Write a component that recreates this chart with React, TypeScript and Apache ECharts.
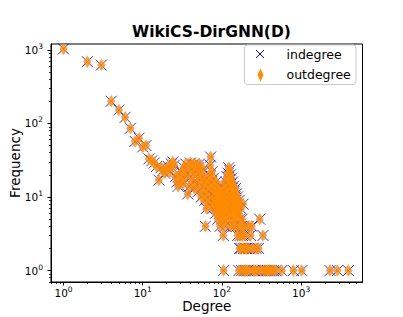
import { useEffect, useRef } from 'react';
import * as echarts from 'echarts';

const FONT = 'DejaVu Sans';

const chartTitle = 'WikiCS-DirGNN(D)';
const xAxisName = 'Degree';
const yAxisName = 'Frequency';
const seriesNames = ['indegree', 'outdegree'];

const xMajorTicks = [1, 10, 100, 1000];
const yMajorTicks = [1, 10, 100, 1000];
const xRange = [0.695, 5960];
const yRange = [0.7, 1200];

// [degree, frequency]
const indegree: [number, number][] = [
  [1, 1030], [2, 690], [3, 620], [4, 200], [5, 152], [6, 121], [7, 86], [8, 57], [9, 63], [10, 48],
  [11, 50], [12, 33], [13, 31], [14, 29], [15, 26], [16, 17], [17, 25], [18, 23], [19, 21], [20, 24],
  [21, 26], [22, 22], [23, 28], [24, 30], [25, 27], [26, 19], [27, 16], [28, 14], [29, 20], [30, 17],
  [31, 22], [32, 15], [33, 25], [34, 18], [35, 28], [36, 21], [37, 11], [38, 26], [39, 14], [40, 29],
  [41, 19], [42, 24], [43, 16], [44, 28], [45, 13], [46, 22], [47, 27], [48, 15], [49, 20], [50, 25],
  [51, 12], [52, 28], [53, 17], [54, 22], [55, 10], [56, 19], [57, 14], [58, 24], [59, 11], [60, 16],
  [61, 9], [62, 4], [63, 13], [64, 7], [65, 18], [66, 10], [67, 15], [68, 8], [69, 12], [70, 20],
  [71, 27], [72, 35], [73, 16], [74, 9], [75, 22], [76, 13], [77, 7], [78, 18], [79, 10], [80, 14],
  [81, 8], [82, 12], [83, 6], [84, 16], [85, 9], [86, 11], [87, 7], [88, 13], [89, 5], [90, 10],
  [91, 8], [92, 12], [93, 6], [94, 9], [95, 4], [96, 11], [97, 7], [98, 14], [99, 5], [100, 9],
  [101, 6], [102, 12], [103, 8], [104, 3], [105, 1], [106, 5], [107, 10], [108, 7], [109, 13], [110, 4],
  [111, 9], [112, 16], [113, 6], [114, 11], [115, 8], [116, 19], [117, 5], [118, 14], [119, 7], [120, 21],
  [121, 10], [122, 25], [123, 6], [124, 17], [125, 9], [126, 23], [127, 12], [128, 20], [129, 4], [130, 15],
  [131, 8], [132, 18], [133, 5], [134, 13], [135, 10], [136, 16], [137, 7], [138, 11], [139, 6], [140, 14],
  [141, 9], [142, 4], [143, 12], [144, 7], [145, 10], [146, 5], [147, 8], [148, 13], [149, 6], [150, 9],
  [152, 11], [154, 4], [155, 7], [157, 10], [158, 3], [160, 6], [162, 8], [164, 1], [165, 9], [167, 2],
  [168, 5], [170, 3], [172, 7], [174, 2], [175, 4], [178, 1], [180, 5], [182, 3], [185, 8], [188, 2],
  [190, 4], [192, 1], [195, 3], [198, 2], [200, 1], [205, 2], [210, 1], [215, 4], [220, 2], [225, 1],
  [230, 3], [238, 4], [245, 2], [250, 1], [260, 1], [270, 2], [280, 1], [290, 2], [300, 5], [310, 1],
  [330, 3], [340, 1], [360, 1], [380, 1], [400, 1], [420, 1], [450, 1], [480, 1], [570, 1], [800, 1],
  [1020, 1], [2320, 1], [2870, 1], [3950, 1],
];

const outdegree: [number, number][] = [
  [1, 1030], [2, 690], [3, 620], [4, 200], [5, 152], [6, 121], [7, 86], [8, 57], [9, 63], [10, 48],
  [11, 50], [12, 33], [13, 31], [14, 29], [15, 26], [16, 17], [17, 25], [18, 23], [19, 21], [20, 24],
  [21, 26], [22, 22], [23, 28], [24, 30], [25, 27], [26, 19], [27, 16], [28, 14], [29, 20], [30, 17],
  [31, 22], [32, 15], [33, 25], [34, 18], [35, 28], [36, 21], [37, 11], [38, 26], [39, 14], [40, 29],
  [41, 19], [42, 24], [43, 16], [44, 28], [45, 13], [46, 22], [47, 27], [48, 15], [49, 20], [50, 25],
  [51, 12], [52, 28], [53, 17], [54, 22], [55, 10], [56, 19], [57, 14], [58, 24], [59, 11], [60, 16],
  [61, 9], [62, 4], [63, 13], [64, 7], [65, 18], [66, 10], [67, 15], [68, 8], [69, 12], [70, 20],
  [71, 27], [72, 35], [73, 16], [74, 9], [75, 22], [76, 13], [77, 7], [78, 18], [79, 10], [80, 14],
  [81, 8], [82, 12], [83, 6], [84, 16], [85, 9], [86, 11], [87, 7], [88, 13], [89, 5], [90, 10],
  [91, 8], [92, 12], [93, 6], [94, 9], [95, 4], [96, 11], [97, 7], [98, 14], [99, 5], [100, 9],
  [101, 6], [102, 12], [103, 8], [104, 3], [105, 1], [106, 5], [107, 10], [108, 7], [109, 13], [110, 4],
  [111, 9], [112, 16], [113, 6], [114, 11], [115, 8], [116, 19], [117, 5], [118, 14], [119, 7], [120, 21],
  [121, 10], [122, 25], [123, 6], [124, 17], [125, 9], [126, 23], [127, 12], [128, 20], [129, 4], [130, 15],
  [131, 8], [132, 18], [133, 5], [134, 13], [135, 10], [136, 16], [137, 7], [138, 11], [139, 6], [140, 14],
  [141, 9], [142, 4], [143, 12], [144, 7], [145, 10], [146, 5], [147, 8], [148, 13], [149, 6], [150, 9],
  [152, 11], [154, 4], [155, 7], [157, 10], [158, 3], [160, 6], [162, 8], [164, 1], [165, 9], [167, 2],
  [168, 5], [170, 3], [172, 7], [174, 2], [175, 4], [178, 1], [180, 5], [182, 3], [185, 8], [188, 2],
  [190, 4], [192, 1], [195, 3], [198, 2], [200, 1], [205, 2], [210, 1], [215, 4], [220, 2], [225, 1],
  [230, 3], [238, 4], [245, 2], [250, 1], [260, 1], [270, 2], [280, 1], [290, 2], [300, 5], [310, 1],
  [330, 3], [340, 1], [360, 1], [380, 1], [400, 1], [420, 1], [450, 1], [480, 1], [570, 1], [800, 1],
  [1020, 1], [2320, 1], [2870, 1], [3950, 1],
];

function minorTicks(range: number[]): number[] {
  const out: number[] = [];
  for (let k = -1; k <= 4; k++) {
    for (let m = 2; m <= 9; m++) {
      const v = m * Math.pow(10, k);
      if (v > range[0] && v < range[1]) out.push(v);
    }
  }
  return out;
}

const supFormatter = (v: number) => `{b|10}{s|${Math.round(Math.log10(v))}}`;
const labelRich = {
  b: { fontSize: 10.5, fontFamily: FONT, color: '#000' },
  s: { fontSize: 7.5, fontFamily: FONT, color: '#000', padding: [0, 0, 7, 0] },
};

const X_PATH = 'path://M0,0L10,10M10,0L0,10';

export default function App() {
  const ref = useRef<HTMLDivElement>(null);
  useEffect(() => {
    if (!ref.current) return;
    const chart = echarts.init(ref.current, undefined, { renderer: 'svg' });
    const baseAxis = (range: number[]) => ({
      type: 'log' as const,
      logBase: 10,
      min: range[0],
      max: range[1],
      splitLine: { show: false },
      axisPointer: { show: false },
    });
    const legendX = 244.5;
    const legendY = 45;
    chart.setOption({
      animation: false,
      backgroundColor: '#fff',
      title: {
        text: chartTitle,
        left: 206.5,
        textAlign: 'center',
        top: 19,
        textStyle: { fontFamily: FONT, fontWeight: 'bold', fontSize: 15.5, color: '#000' },
      },
      graphic: [
        {
          type: 'group',
          x: legendX,
          y: legendY,
          z: 100,
          silent: true,
          children: [
            {
              type: 'rect',
              shape: { x: 0, y: 0, width: 111.5, height: 39.5, r: 3 },
              style: { fill: 'rgba(255,255,255,0.8)', stroke: '#cccccc', lineWidth: 1 },
            },
            {
              type: 'line',
              shape: { x1: 11.5, y1: 5, x2: 19.5, y2: 13 },
              style: { stroke: '#0000ff', lineWidth: 1 },
            },
            {
              type: 'line',
              shape: { x1: 19.5, y1: 5, x2: 11.5, y2: 13 },
              style: { stroke: '#0000ff', lineWidth: 1 },
            },
            {
              type: 'polygon',
              shape: { points: [[16, 23.5], [19, 30], [16, 36.5], [13, 30]] },
              style: { fill: '#ff8c00' },
            },
            {
              type: 'text',
              x: 42,
              y: 9,
              style: { text: seriesNames[0], fontFamily: FONT, fontSize: 12.5, fill: '#000', verticalAlign: 'middle', align: 'left' },
            },
            {
              type: 'text',
              x: 42,
              y: 29.5,
              style: { text: seriesNames[1], fontFamily: FONT, fontSize: 12.5, fill: '#000', verticalAlign: 'middle', align: 'left' },
            },
          ],
        },
      ],
      grid: {
        left: 51,
        right: 40.5,
        top: 44,
        bottom: 35,
        show: true,
        borderColor: '#000',
        borderWidth: 1,
        backgroundColor: 'transparent',
        containLabel: false,
        outerBoundsMode: 'none',
      },
      xAxis: [
        {
          ...baseAxis(xRange),
          position: 'bottom',
          name: xAxisName,
          nameLocation: 'middle',
          nameGap: 17,
          nameMoveOverlap: false,
          nameTextStyle: { fontFamily: FONT, fontSize: 13.5, color: '#000' },
          axisLine: { show: true, lineStyle: { color: '#000', width: 1 } },
          axisTick: { show: true, length: 3.5, customValues: xMajorTicks, lineStyle: { color: '#000', width: 1 } },
          axisLabel: { show: true, customValues: xMajorTicks, formatter: supFormatter, rich: labelRich, margin: 3 },
        },
        {
          ...baseAxis(xRange),
          position: 'bottom',
          offset: 0,
          axisLine: { show: false },
          axisTick: { show: true, length: 2, customValues: minorTicks(xRange), lineStyle: { color: '#000', width: 0.8 } },
          axisLabel: { show: false },
        },
      ],
      yAxis: [
        {
          ...baseAxis(yRange),
          position: 'left',
          name: yAxisName,
          nameLocation: 'middle',
          nameGap: 29,
          nameMoveOverlap: false,
          nameTextStyle: { fontFamily: FONT, fontSize: 13.5, color: '#000' },
          axisLine: { show: true, lineStyle: { color: '#000', width: 1 } },
          axisTick: { show: true, length: 3.5, customValues: yMajorTicks, lineStyle: { color: '#000', width: 1 } },
          axisLabel: { show: true, customValues: yMajorTicks, formatter: supFormatter, rich: labelRich, margin: 8 },
        },
        {
          ...baseAxis(yRange),
          position: 'left',
          offset: 0,
          axisLine: { show: false },
          axisTick: { show: true, length: 2, customValues: minorTicks(yRange), lineStyle: { color: '#000', width: 0.8 } },
          axisLabel: { show: false },
        },
      ],
      series: [
        {
          type: 'scatter',
          name: seriesNames[0],
          data: indegree,
          xAxisIndex: 0,
          yAxisIndex: 0,
          symbol: X_PATH,
          symbolSize: 11,
          itemStyle: { color: 'none', borderColor: '#0000ff', borderWidth: 1 },
          silent: true,
          z: 2,
        },
        {
          type: 'scatter',
          name: seriesNames[1],
          data: outdegree,
          xAxisIndex: 0,
          yAxisIndex: 0,
          symbol: 'diamond',
          symbolSize: [8.3, 12.5],
          itemStyle: { color: '#ff8c00' },
          silent: true,
          z: 3,
        },
      ],
    });
    return () => chart.dispose();
  }, []);
  return <div ref={ref} style={{ position: 'fixed', left: 0, top: 0, width: 403, height: 317 }} />;
}
